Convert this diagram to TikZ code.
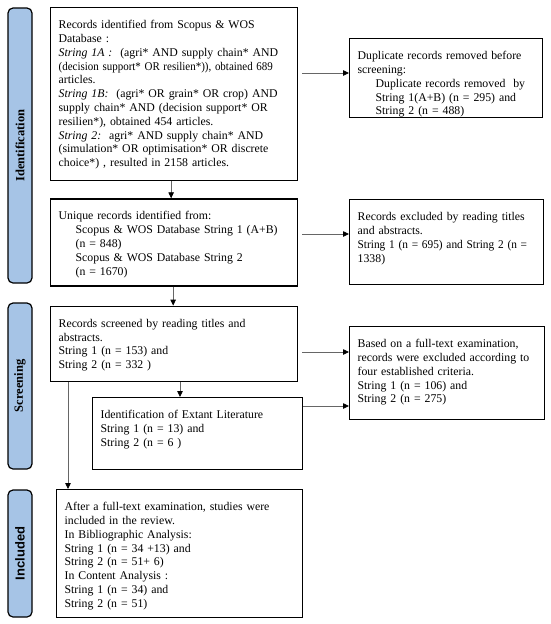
\documentclass[tikz,border=0pt]{standalone}
\usepackage{fontspec,graphicx}
\setmainfont{Liberation Serif}
\newfontfamily\arialfont{Liberation Sans}
\usetikzlibrary{positioning,arrows.meta,calc}
\definecolor{barblue}{RGB}{166,196,230}
\newcommand{\tightline}[2]{\scalebox{#1}[1]{#2}}
\tikzstyle{pbox}=[rectangle, draw=black, line width=1.3pt, align=left,
 inner xsep=8pt, inner ysep=8pt, text height=13pt, anchor=north west,
 font=\fontsize{11.8}{13.8}\selectfont]
\tikzstyle{sidebar}=[rectangle, rounded corners=5pt, draw=black, fill=barblue,
 line width=1.2pt, rotate=90, minimum height=24pt, inner sep=0pt,
 font=\fontsize{12.5}{14}\selectfont\bfseries]
\tikzstyle{parrow}=[-{Triangle[length=6pt,width=5.5pt,color=black]}, draw=black!60, line width=0.8pt]

\begin{document}
\begin{tikzpicture}[x=1pt,y=-1pt]
\useasboundingbox (0,0) rectangle (550,624);

% phase bars
\node (IDBAR) [sidebar, minimum width=275pt] at (20,145.5) {Identification};
\node (SCBAR) [sidebar, minimum width=166pt] at (20,386) {Screening};
\node (INBAR) [sidebar, minimum width=127pt, font=\fontsize{13}{14}\selectfont\bfseries\arialfont] at (20,553.5) {Included};

% identification
\node (RECID) [pbox, text width=231pt, text depth=144pt] at (50,7) {Records identified from Scopus \& WOS\\
Database :\\
\textit{String 1A :}\ \ (agri* AND supply chain* AND\\
\tightline{0.93}{(decision support* OR resilien*)), obtained 689}\\
articles.\\
\textit{String 1B:}\ \ (agri* OR grain* OR crop) AND\\
supply chain* AND (decision support* OR\\
resilien*), obtained 454 articles.\\
\textit{String 2:}\ \ agri* AND supply chain* AND\\
(simulation* OR optimisation* OR discrete\\
choice*) , resulted in 2158 articles.};

\node (DUPRM) [pbox, text width=177pt, text depth=50pt] at (349,38) {Duplicate records removed before\\
screening:\\
\hspace*{18pt}Duplicate records removed\ \ by\\
\hspace*{18pt}String 1(A+B) (n = 295) and\\
\hspace*{18pt}String 2 (n = 488)};

\node (UNIQ) [pbox, text width=231pt, text depth=58pt, below=17pt of RECID.south west, anchor=north west] {Unique records identified from:\\
\hspace*{17pt}Scopus \& WOS Database String 1 (A+B)\\
\hspace*{17pt}(n = 848)\\
\hspace*{17pt}Scopus \& WOS Database String 2\\
\hspace*{17pt}(n = 1670)};

\node (EXCLTA) [pbox, text width=178pt, text depth=56pt] at (349,199) {Records excluded by reading titles\\
and abstracts.\\
\tightline{0.96}{String 1 (n = 695) and String 2 (n =}\\
1338)};

% screening
\node (SCRN) [pbox, text width=231pt, text depth=46pt, below=19pt of UNIQ.south west, anchor=north west] {Records screened by reading titles and\\
abstracts.\\
String 1 (n = 153) and\\
String 2 (n = 332 )};

\node (EXCLFT) [pbox, text width=179pt, text depth=64pt] at (349,326) {Based on a full-text examination,\\
records were excluded according to\\
four established criteria.\\
String 1 (n = 106) and\\
String 2 (n = 275)};

\node (EXTANT) [pbox, text width=194pt, text depth=43pt] at (92,397) {Identification of Extant Literature\\
String 1 (n = 13) and\\
String 2 (n = 6 )};

% included
\node (INCL) [pbox, text width=230pt, text depth=99pt] at (56,489) {After a full-text examination, studies were\\
included in the review.\\
In Bibliographic Analysis:\\
String 1 (n = 34 +13) and\\
String 2 (n = 51+ 6)\\
In Content Analysis :\\
String 1 (n = 34) and\\
String 2 (n = 51)};

% connectors
\coordinate (A1) at (0,73);
\coordinate (A2) at (0,234);
\coordinate (A3) at (0,352);
\coordinate (A4) at (0,406);
\coordinate (SCEX) at (180,0);
\coordinate (SCIN) at (68,0);
\draw[parrow] ([xshift=-3pt]RECID.south) -- ([xshift=-3pt]UNIQ.north);
\draw[parrow] ([xshift=-1pt]UNIQ.south) -- ([xshift=-1pt]SCRN.north);
\draw[parrow] (SCRN.south -| SCEX) -- (EXTANT.north -| SCEX);
\draw[parrow] (SCRN.south -| SCIN) -- (INCL.north -| SCIN);
\draw[parrow, shorten <=4pt] (RECID.east |- A1) -- (DUPRM.west |- A1);
\draw[parrow, shorten <=4pt] (UNIQ.east |- A2) -- (EXCLTA.west |- A2);
\draw[parrow, shorten <=4pt] (SCRN.east |- A3) -- (EXCLFT.west |- A3);
\draw[parrow] (EXTANT.east |- A4) -- (EXCLFT.west |- A4);

\end{tikzpicture}
\end{document}
